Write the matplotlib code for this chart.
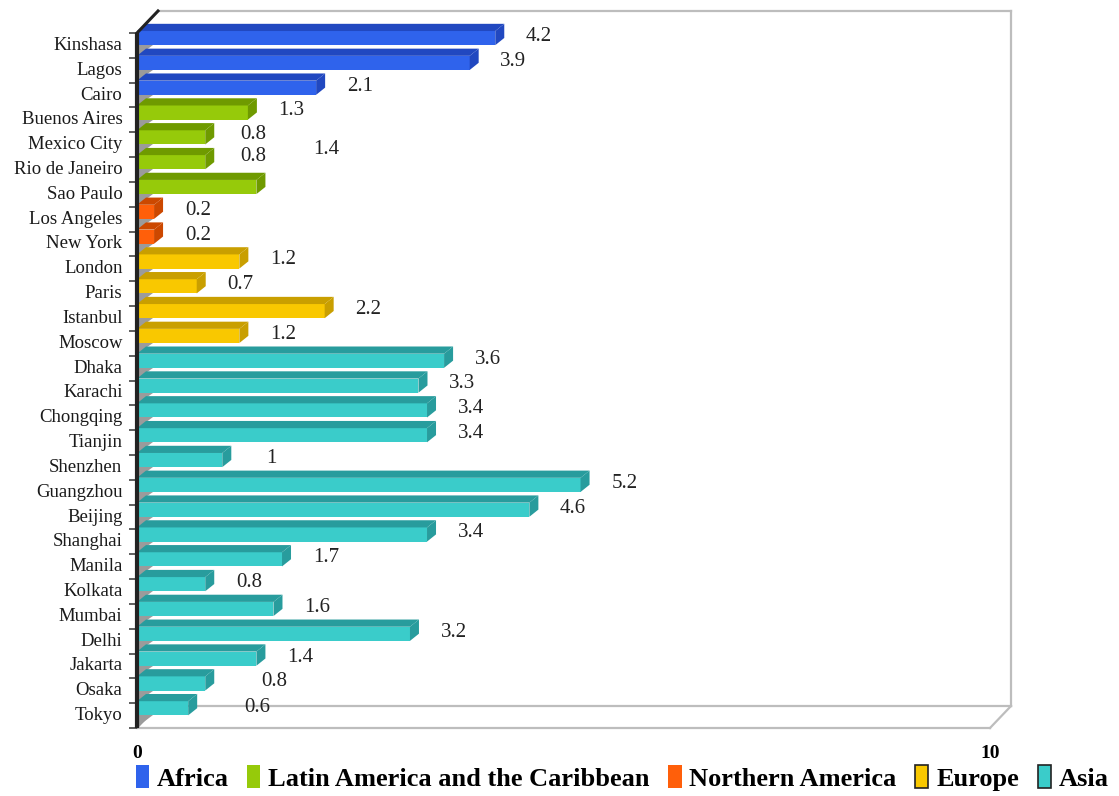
import matplotlib
matplotlib.use("Agg")
import matplotlib.pyplot as plt
from matplotlib.patches import Polygon, Patch
import numpy as np

# ---- data -------------------------------------------------------------
cities = ["Kinshasa", "Lagos", "Cairo",
          "Buenos Aires", "Mexico City", "Rio de Janeiro", "Sao Paulo",
          "Los Angeles", "New York",
          "London", "Paris", "Istanbul", "Moscow",
          "Dhaka", "Karachi", "Chongqing", "Tianjin", "Shenzhen", "Guangzhou",
          "Beijing", "Shanghai", "Manila", "Kolkata", "Mumbai", "Delhi",
          "Jakarta", "Osaka", "Tokyo"]
values = [4.2, 3.9, 2.1,
          1.3, 0.8, 0.8, 1.4,
          0.2, 0.2,
          1.2, 0.7, 2.2, 1.2,
          3.6, 3.3, 3.4, 3.4, 1, 5.2,
          4.6, 3.4, 1.7, 0.8, 1.6, 3.2,
          1.4, 0.8, 0.6]
regions = (["Africa"] * 3 + ["Latin America and the Caribbean"] * 4 +
           ["Northern America"] * 2 + ["Europe"] * 4 + ["Asia"] * 15)
region_order = ["Africa", "Latin America and the Caribbean",
                "Northern America", "Europe", "Asia"]
x_ticks = [0, 10]

# ---- styling ----------------------------------------------------------
front = {"Africa": "#2f63ec", "Latin America and the Caribbean": "#96ca0a",
         "Northern America": "#ff5f0a", "Europe": "#f9c800", "Asia": "#3accca"}
top = {"Africa": "#2148c0", "Latin America and the Caribbean": "#6f9a00",
       "Northern America": "#cc4800", "Europe": "#c99f00", "Asia": "#289c9d"}
legend_edge = {"Africa": "none", "Latin America and the Caribbean": "none",
               "Northern America": "none", "Europe": "#222222", "Asia": "#222222"}

# label nudges (x in value units, y in row units) for crowded labels
label_nudge = {"Sao Paulo": (0.30, 1.45), "Mexico City": (0.05, 0.05),
               "Osaka": (0.30, 0.0), "Tokyo": (0.30, -0.05),
               "Shenzhen": (0.15, 0.0), "Rio de Janeiro": (0.05, 0.15)}

serif = ["Liberation Serif", "DejaVu Serif"]

fig = plt.figure(figsize=(11.19, 7.96), dpi=100)
W, H = 1119, 796
ax = fig.add_axes([137 / W, (H - 728) / H, 853 / W, (728 - 33) / H])

n = len(cities)
ypos = np.arange(n)[::-1]          # Kinshasa at top
ax.set_xlim(0, 10)
ax.set_ylim(-0.5, n - 0.5)

px_x = 853 / 10.0                  # pixels per value unit
px_y = (728 - 33) / n              # pixels per row
dep_x = 21 / px_x                  # wall depth
dep_y = 22 / px_y
bar_dx = 9 / px_x                  # bar depth
b0, b1, b2 = 0.01, 0.58, 0.87      # front face bottom/top, top face back edge

# back wall and floor
wall = dict(color="#bdbdbd", lw=1.6, clip_on=False, zorder=1)
ax.plot([dep_x, 10 + dep_x], [n - 0.5 + dep_y] * 2, **wall)
ax.plot([10 + dep_x] * 2, [n - 0.5 + dep_y, -0.5 + dep_y], **wall)
ax.plot([dep_x, 10 + dep_x], [-0.5 + dep_y] * 2, **wall)
ax.plot([0, 10], [-0.5, -0.5], **wall)
ax.plot([10, 10 + dep_x], [-0.5, -0.5 + dep_y], **wall)
ax.plot([0, dep_x], [-0.5, -0.5 + dep_y], color="#9a9a9a", lw=1.2,
        clip_on=False, zorder=1)

# left-wall shading wedges
for y in ypos:
    ax.add_patch(Polygon([(0, y - 0.45), (0, y + b0), (0.19, y + b0)],
                         closed=True, fc="#9b9b9b", ec="none", zorder=2,
                         clip_on=False))

# bars with top and end faces
for y, v, r in zip(ypos, values, regions):
    ax.barh(y + (b0 + b1) / 2, v, height=b1 - b0, color=front[r],
            edgecolor="none", zorder=3, clip_on=False)
    ax.add_patch(Polygon([(0, y + b1), (v, y + b1),
                          (v + bar_dx, y + b2), (bar_dx, y + b2)],
                         closed=True, fc=top[r], ec="none", zorder=3, clip_on=False))
    ax.add_patch(Polygon([(v, y + b0), (v, y + b1),
                          (v + bar_dx, y + b2), (v + bar_dx, y + b0 + (b2 - b1))],
                         closed=True, fc=top[r], ec="none", zorder=3, clip_on=False))

# value labels
for c, y, v in zip(cities, ypos, values):
    nx, ny = label_nudge.get(c, (0.0, 0.0))
    ax.text(v + 0.36 + nx, y + 0.36 + ny, f"{v:g}", fontsize=15,
            family=serif, color="#222222", ha="left", va="center", zorder=4)

# left axis
ax.plot([0, 0], [-0.5, n - 0.5], color="#222222", lw=3, clip_on=False,
        zorder=5, solid_capstyle="butt")
ax.plot([0, dep_x], [n - 0.5, n - 0.5 + dep_y], color="#222222", lw=2.2,
        clip_on=False, zorder=5)

for s in ax.spines.values():
    s.set_visible(False)
ax.set_yticks(np.arange(-0.5, n, 1.0))
ax.set_yticklabels([])
ax.tick_params(axis="y", length=6, width=1.2, color="#444444", pad=0)
for y, c in zip(ypos, cities):
    ax.text(-0.17, y, c, fontsize=13.5, family=serif, color="#1a1a1a",
            ha="right", va="center")

ax.set_xticks(x_ticks)
ax.set_xticklabels([str(t) for t in x_ticks], fontsize=14, family=serif,
                   fontweight="bold")
ax.tick_params(axis="x", length=0, pad=12)

handles = [Patch(facecolor=front[r], edgecolor=legend_edge[r], linewidth=1.2,
                 label=r) for r in region_order]
leg = fig.legend(handles=handles, loc="center", ncol=5, frameon=False,
                 bbox_to_anchor=(0.556, (H - 778) / H),
                 prop={"family": serif, "weight": "bold", "size": 19},
                 handlelength=0.5, handleheight=0.95, handletextpad=0.3,
                 columnspacing=0.7)

fig.savefig("out.png", dpi=100, facecolor="white")
